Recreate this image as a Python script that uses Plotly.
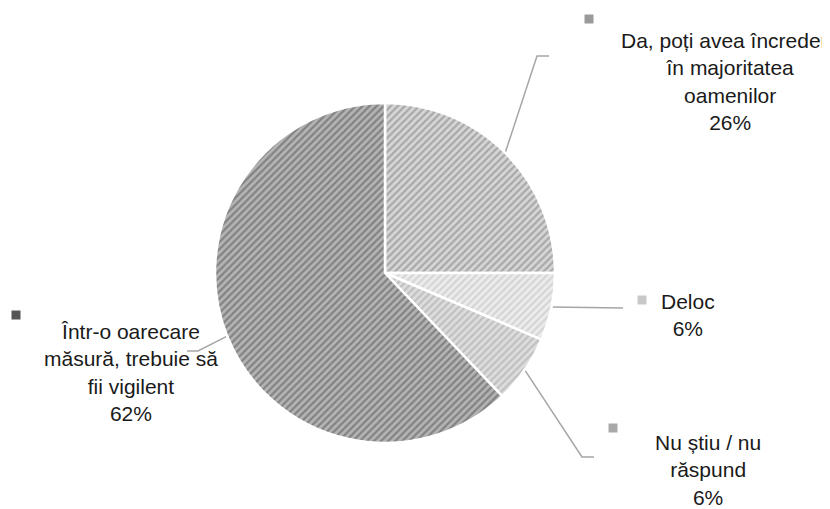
import numpy as np
import plotly.graph_objects as go

# data (slice shares from the drawn angles, labels as printed)
categories = [
    "Da, poți avea încredere<br>în majoritatea<br>oamenilor",
    "Deloc",
    "Nu știu / nu<br>răspund",
    "Într-o oarecare<br>măsură, trebuie să<br>fii vigilent",
]
shares = [25.0, 6.4, 6.5, 62.1]
pct_labels = ["26%", "6%", "6%", "62%"]

# grey hatch colours per slice
bg_colors = ["#d6d6d6", "#ececec", "#dddddd", "#b4b4b4"]
fg_colors = ["#7a7a7a", "#bdbdbd", "#a3a3a3", "#505050"]
key_colors = ["#9a9a9a", "#c8c8c8", "#a8a8a8", "#555555"]

W, H = 830, 509
PAD = 8  # the page body adds an 8px margin, so screen px = figure px + 8
cx, cy, r = 385, 273, 170

# label placement (screen pixels), leader line bends and ends
label_pos = [(730, 81), (688, 315), (708, 470), (131, 372)]
key_pos = [(589, 19), (642, 300), (613, 428), (16, 315)]
leader_bend = [(537, 56), None, (582, 457), (198, 351)]
leader_end = [(549, 56), (623, 308), (594, 457), (187, 351)]

fig = go.Figure()

fig.add_trace(
    go.Pie(
        values=shares,
        labels=[c.replace("<br>", " ") for c in categories],
        sort=False,
        direction="clockwise",
        rotation=0,
        textinfo="none",
        hoverinfo="label+percent",
        showlegend=False,
        marker=dict(
            colors=bg_colors,
            line=dict(color="white", width=2.5),
            pattern=dict(
                shape="/",
                fgcolor=fg_colors,
                size=5,
                solidity=0.45,
                fillmode="overlay",
            ),
        ),
        domain=dict(
            x=[(cx - PAD - r) / W, (cx - PAD + r) / W],
            y=[(H - (cy - PAD) - r) / H, (H - (cy - PAD) + r) / H],
        ),
    )
)

# leader lines start at the middle of each slice's outer edge
total = sum(shares)
cum = np.cumsum([0] + shares)
for i in range(len(shares)):
    mid = (cum[i] + shares[i] / 2) / total * 2 * np.pi
    x0 = cx + r * np.sin(mid)
    y0 = cy - r * np.cos(mid)
    xs, ys = [x0], [y0]
    if leader_bend[i] is not None:
        xs.append(leader_bend[i][0])
        ys.append(leader_bend[i][1])
    xs.append(leader_end[i][0])
    ys.append(leader_end[i][1])
    fig.add_trace(
        go.Scatter(
            x=xs, y=ys, mode="lines",
            line=dict(color="#a6a6a6", width=1.5),
            hoverinfo="skip", showlegend=False,
        )
    )

# little legend keys next to labels
fig.add_trace(
    go.Scatter(
        x=[p[0] for p in key_pos],
        y=[p[1] for p in key_pos],
        mode="markers",
        marker=dict(symbol="square", size=9, color=key_colors),
        hoverinfo="skip", showlegend=False,
    )
)

for i in range(len(categories)):
    fig.add_annotation(
        x=label_pos[i][0], y=label_pos[i][1], xref="x", yref="y",
        text=categories[i] + "<br>" + pct_labels[i],
        showarrow=False, align="center",
        xanchor="center", yanchor="middle",
        font=dict(family="Liberation Sans", size=21, color="#1a1a1a"),
    )

fig.update_layout(
    width=W, height=H,
    margin=dict(l=0, r=0, t=0, b=0),
    paper_bgcolor="white", plot_bgcolor="rgba(0,0,0,0)",
    xaxis=dict(range=[PAD, W + PAD], visible=False, fixedrange=True, domain=[0, 1]),
    yaxis=dict(range=[H + PAD, PAD], visible=False, fixedrange=True, domain=[0, 1]),
)

fig.write_html("out.html")
